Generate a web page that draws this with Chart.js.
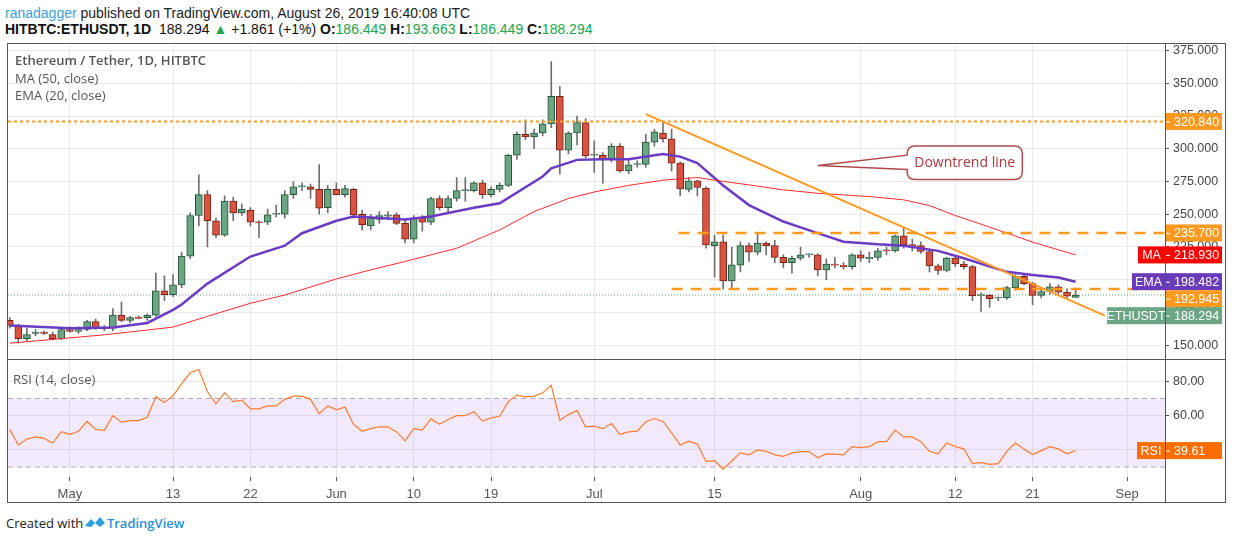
<!DOCTYPE html>
<html>
<head>
<meta charset="utf-8">
<script src="https://cdn.jsdelivr.net/npm/chart.js@4.4.0/dist/chart.umd.min.js"></script>
<style>
  body { margin: 0; background: #fff; width: 1234px; height: 540px; overflow: hidden; position: relative;
         font-family: "Liberation Sans Narrow", "Liberation Sans", Arial, sans-serif; }
  .abs { position: absolute; }
  #hdr1 { left: 5px; top: 5px; font-size: 14px; color: #222; }
  #hdr2 { left: 5px; top: 21px; font-size: 14px; color: #111; }
  #hdr2 b { font-weight: bold; }
  .g { color: #22a34a; }
  .leg { left: 15px; font-size: 13px; color: #555; font-family: "Open Sans", "Noto Sans", sans-serif; }
  #frame { left: 7px; top: 43px; width: 1219px; height: 460px; border: 1px solid #555; box-sizing: border-box; }
  #footer { left: 6px; top: 514px; font-size: 13px; color: #222; font-family: "Open Sans", "Noto Sans", sans-serif; }
  #footer span { color: #2a8fd8; font-weight: 600; }
</style>
</head>
<body>
<div id="hdr1" class="abs"><span style="color:#3aa0de">ranadagger</span> published on TradingView.com, August 26, 2019 16:40:08 UTC</div>
<div id="hdr2" class="abs"><b>HITBTC:ETHUSDT, 1D</b>&nbsp; 188.294 <span class="g">&#9650;</span> +1.861 (+1%) <b>O:</b><span class="g">186.449</span> <b>H:</b><span class="g">193.663</span> <b>L:</b><span class="g">186.449</span> <b>C:</b><span class="g">188.294</span></div>
<div id="frame" class="abs"></div>
<div class="abs" style="left:0;top:33px;width:1226px;height:339px"><canvas id="main" width="1226" height="339"></canvas></div>
<div class="abs" style="left:7px;top:359px;width:1219px;height:1px;background:#555"></div>
<div class="abs" style="left:0;top:351px;width:1226px;height:152px"><canvas id="rsi" width="1226" height="152"></canvas></div>
<div class="abs" style="left:1165px;top:43px;width:1px;height:460px;background:#555"></div>
<div class="abs leg" style="top:51px;font-weight:600;color:#555">Ethereum / Tether, 1D, HITBTC</div>
<div class="abs leg" style="top:69px">MA (50, close)</div>
<div class="abs leg" style="top:86px">EMA (20, close)</div>
<div class="abs leg" style="top:370px;left:13px">RSI (14, close)</div>
<div id="footer" class="abs">Created with &nbsp;&nbsp;&nbsp;&nbsp;&nbsp;&nbsp;<span>TradingView</span></div>
<svg class="abs" style="left:84px;top:515px" width="22" height="14"><path d="M1 11 L7 4 L11 8 L16 2 L21 8 L16 12 L11 8 L7 12 Z" fill="#2a9fd8"/></svg>
<script>
// --- data (day index 0 = Apr 24 2019) ---
const opens = [
  169,165,155,159,160,158,155,162,160.5,162,
  168,163,163,173,169,171,171,173,191.5,188.5,
  196,218,249,265,245,234,260,251,253,244,
  244,250,250,265,271,271,269,255,269,265,
  269,250,241,246,248.5,249.5,243,231,247,244,
  262,255,262,268,268,274,265,269,272,295,
  311,309,312,319,340,299,312,320,295,295,
  291.5,302,283,288,288,305,312,307.6,289,269,
  275.5,270,226,229,199,211,226,221,228,226,
  217,213,216.5,219,219,207.5,212,211,210,219,
  216,217,222.5,222,233.5,226.6,226,221.5,210.6,207,
  216.5,212,210,187.8,188,186,186,194,202.6,197,
  188,191,194.5,190.5,186.449
];
const highs = [
  171,166,163,162,161,160,163,164,164,169,
  170,165,178,183,172,172.5,174,205,203,204,
  221,251,280,268,247,264,263,258,255,245,
  254,257,268,275,274,273,288,272,274,272,
  270,253,250,252,252,251,246,249,249,263,
  264,264,278,278,275,276,271,274,296,313,
  322,315,322,366.6,347.5,313,325,323,306,297,
  304,304,291,291,311,315,320,315,290,278,
  276,271,234,234,225,229,228,235,229,230,
  219,218,225,220,220,216,217,213,220,222,
  221,224,225,234,240,231,229,223,212,217,
  218,214,211,190,189,187,195,204,204,198,
  194,197,196,193,193.663
];
const lows = [
  163,151.5,153,157,158,154,154,160,159,161,
  162,161,161,168,167,170,169,172,184,187,
  194,216,241,225,232,233,245,249,241,232,
  242,248,247,262,268,262,250,251,266,263,
  247,238,238,243,246,242,228,228,237,242,
  253,252,260,260,267,262,263,267,271,292,
  307,300,310,316,280.6,296,303,293,282,273.7,
  290,282,281,286,286,302,305,283,264,267,
  264,224,202,193,193,206,214,219,219,213,
  209,205,215,217,203,200,209,208,208,214,
  213,215,219,221,224,222,220,206,204,206,
  210,208,184,175.8,179,184,185,192,196,181,
  186,189,188,186,186.449
];
const closes = [
  165,155,158,160,159,155,162,160.5,162,168,
  163,162.5,173,169,171,170.5,173,191.5,188.5,196,
  218,249,265,245,234,260,251,254,244,243.5,
  249.5,250.5,265,271,271.5,269,254.6,269,265,269.5,
  249.5,242,247,249,249.5,243,231,247,244,262,
  255,262,268,268.8,274,265,269,272,295,311,
  309,312,319,340,299,312,320,294.6,295.4,291.5,
  302,283,287.7,288.5,305,313,307.6,289,269.4,275.5,
  270.4,226.6,229,199,211.3,226,221,228,226,217,
  213,216.5,219,219.4,207.5,212,211,210,219,216.5,
  217,222,222,233.5,226.6,226,221.5,210.6,207,216.5,
  212,210,187.8,188.5,185.5,186.4,194,202.6,197,188,
  191,194.5,190.5,187.5,188.294
];
const maDays  = [0,11,19,23,28,32,38,42,46,49,52,57,61,65,68,72,76,80,82,86,90,94,100,104,107,110,113,116,119,124];
const maVals  = [151.5,157.9,163.8,172,182,188.3,200.6,207.5,213.9,219,224,238,252,262,267,272,276,278,276,272.4,268.6,266,263.5,261,256.6,249,242.4,235.6,228.7,218.93];
const emaDays = [0,7,12,16,19,20,23,28,32,34,38,40,46,49,54,57,62,63,66,69,72,76,78,80,83,86,90,92,94,97,101,104,108,111,116,119,122,124];
const emaVals = [165,163,163.5,167,177,181,197,217.7,226,235.5,245,248.3,246,248.3,255,258.4,278.8,285,291.5,292,292,296,294,289,272,257,244.4,240,235.6,229,227,226,222,216.4,206,203.6,201.6,198.482];
const rsiVals = [
  52,42.9,46.3,47.6,46.7,44,50.7,49.1,50.9,56.6,
  52,51.4,60,56.2,57.1,57.1,59,71,67.6,71.6,
  78.7,85,86.9,73.9,66.9,73.3,68.2,69.1,64,64,
  65.7,65.7,69.5,71.4,71.4,69.5,61.1,65.7,63.4,65,
  54.9,50.9,52.4,53.5,53.5,50.5,45.3,52.6,51.6,58.1,
  54.9,57.7,60,60,62.3,56.8,58.7,59.6,68.2,72,
  71,71.4,73.3,77.7,57.3,60.6,63,53.5,53.9,52.4,
  55.4,49.1,50.5,51,56.4,58.3,56.6,50,42.9,45.1,
  43.4,33.3,33.7,28.8,33.5,38.3,37.1,40,39.2,37.1,
  36.2,38.3,39,39,35.4,37.7,37.5,37.1,41.9,41.3,
  41.9,44.8,44.8,51.6,47.6,47.6,44.8,39.2,37.7,44,
  41.9,40.6,32,32.6,31.6,32,39.2,44,40.6,37.3,
  39.6,41.9,40.6,37.7,39.61
];
const dateTicks  = [7,19,28,38,47,56,68,82,99,110,119,130];
const dateLabels = ["May","13","22","Jun","10","19","Jul","15","Aug","12","21","Sep"];
const priceTicks = [150,175,200,225,250,275,300,325,350,375];
const rsiTicks = [40,60,80];
const resistance = 320.84, rangeTop = 235.7, rangeBottom = 192.945, lastPrice = 188.294;
const trendStart = [74, 326.4], trendEnd = [127.4, 172.6];

const UP = "#6ba583", UPB = "#225437", DN = "#d75442", DNB = "#7a1f14";
const ORANGE = "#ff9a1f", GRID = "#e9e9ea";
const FONT = "'Liberation Sans Narrow', 'Liberation Sans', Arial";
const X_MIN = -0.2, X_MAX = 134.4;
const days = closes.map((c, i) => i);
const isUp = (i) => closes[i] >= opens[i];

function xAxis(showLabels) {
  return {
    type: "linear", min: X_MIN, max: X_MAX, offset: false,
    afterBuildTicks: (ax) => { ax.ticks = dateTicks.map((v) => ({ value: v })); },
    grid: { color: GRID, drawTicks: showLabels, tickLength: 4, tickColor: "#555", offset: false },
    border: { display: false },
    ticks: {
      display: showLabels, color: "#555", font: { family: FONT, size: 13 }, padding: 6,
      autoSkip: false, maxRotation: 0,
      callback: (v) => dateLabels[dateTicks.indexOf(v)],
    },
    afterFit: (ax) => { ax.height = showLabels ? 26 : 0; },
  };
}

// right-hand price tags, pushed apart so they don't overlap
function drawTags(chart, tags) {
  const { ctx, chartArea, scales } = chart;
  const y = scales.y;
  const h = 17;
  const placed = tags.map((t) => ({ ...t, py: y.getPixelForValue(t.v) })).sort((a, b) => a.py - b.py);
  for (let i = 1; i < placed.length; i++) {
    if (placed[i].py - placed[i - 1].py < h) placed[i].py = placed[i - 1].py + h;
  }
  ctx.save();
  ctx.font = "12.5px " + FONT;
  ctx.textBaseline = "middle";
  placed.forEach((t) => {
    const x0 = chartArea.right + 1;
    ctx.fillStyle = t.color;
    ctx.fillRect(x0, t.py - h / 2, 56, h);
    ctx.fillStyle = "#fff";
    ctx.textAlign = "left";
    ctx.fillText(t.text, x0 + 8, t.py + 1);
    ctx.fillRect(x0, t.py, 4, 1);
    if (t.name) {
      const w = t.nameW;
      ctx.fillStyle = t.color;
      ctx.fillRect(chartArea.right - w, t.py - h / 2, w, h);
      ctx.fillStyle = "#fff";
      ctx.textAlign = "center";
      ctx.fillText(t.name, chartArea.right - w / 2, t.py + 1);
    }
  });
  ctx.restore();
}

const mainPlugin = {
  id: "mainExtras",
  afterDraw(chart) {
    const { ctx, scales } = chart;
    // callout for the trend line
    const tip = [scales.x.getPixelForValue(94), scales.y.getPixelForValue(287.2)];
    const bx0 = scales.x.getPixelForValue(104.4), bx1 = scales.x.getPixelForValue(117.8);
    const by0 = scales.y.getPixelForValue(302), by1 = scales.y.getPixelForValue(276.5);
    ctx.save();
    ctx.strokeStyle = "#b04a4a"; ctx.lineWidth = 1.5; ctx.fillStyle = "#fff";
    ctx.beginPath();
    ctx.moveTo(bx0 + 8, by0);
    ctx.lineTo(bx1 - 8, by0); ctx.quadraticCurveTo(bx1, by0, bx1, by0 + 8);
    ctx.lineTo(bx1, by1 - 8); ctx.quadraticCurveTo(bx1, by1, bx1 - 8, by1);
    ctx.lineTo(bx0 + 8, by1); ctx.quadraticCurveTo(bx0, by1, bx0, by1 - 8);
    ctx.lineTo(bx0, by1 - 10); ctx.lineTo(tip[0], tip[1]); ctx.lineTo(bx0, by0 + 9);
    ctx.lineTo(bx0, by0 + 8); ctx.quadraticCurveTo(bx0, by0, bx0 + 8, by0);
    ctx.closePath(); ctx.fill(); ctx.stroke();
    ctx.fillStyle = "#b0353a"; ctx.font = "14px 'Open Sans', sans-serif";
    ctx.textAlign = "center"; ctx.textBaseline = "middle";
    ctx.fillText("Downtrend line", (bx0 + bx1) / 2, (by0 + by1) / 2);
    ctx.restore();
    drawTags(chart, [
      { v: resistance, text: "320.840", color: ORANGE },
      { v: rangeTop, text: "235.700", color: ORANGE },
      { v: maVals[maVals.length - 1], text: "218.930", color: "#ff0000", name: "MA", nameW: 27 },
      { v: emaVals[emaVals.length - 1], text: "198.482", color: "#6a3bb8", name: "EMA", nameW: 33 },
      { v: rangeBottom, text: "192.945", color: ORANGE },
      { v: lastPrice, text: "188.294", color: "#6ba583", name: "ETHUSDT", nameW: 58 },
    ]);
  },
};

const seg = (x0, x1, v) => [{ x: x0, y: v }, { x: x1, y: v }];
const lineDs = (data, color, width, dash, order) => ({
  type: "line", data, borderColor: color, borderWidth: width, borderDash: dash || [],
  pointRadius: 0, tension: 0, order: order,
});

new Chart(document.getElementById("main"), {
  data: {
    datasets: [
      lineDs(seg(X_MIN, X_MAX, lastPrice), "#5b9a7d", 1, [1, 2], 5),
      { type: "bar", data: days.map((i) => ({ x: i, y: [lows[i], highs[i]] })),
        backgroundColor: "#707070", barThickness: 1, order: 4 },
      { type: "bar", data: days.map((i) => ({ x: i, y: [opens[i], closes[i]] })),
        backgroundColor: (c) => (isUp(c.dataIndex) ? UP : DN),
        borderColor: (c) => (isUp(c.dataIndex) ? UPB : DNB),
        borderWidth: 1, borderSkipped: false, barThickness: 7, minBarLength: 1, order: 3 },
      lineDs(maDays.map((d, i) => ({ x: d, y: maVals[i] })), "#ff2a2a", 1, null, 2),
      lineDs(emaDays.map((d, i) => ({ x: d, y: emaVals[i] })), "#6a3bc4", 2.5, null, 2),
      lineDs(seg(X_MIN, X_MAX, resistance), ORANGE, 2, [3, 3], 1),
      lineDs(seg(77.8, X_MAX, rangeTop), ORANGE, 2.5, [11, 8], 1),
      lineDs(seg(77, X_MAX, rangeBottom), ORANGE, 2.5, [11, 8], 1),
      lineDs([{ x: trendStart[0], y: trendStart[1] }, { x: trendEnd[0], y: trendEnd[1] }], ORANGE, 2, null, 1),
    ],
  },
  options: {
    responsive: false, animation: false,
    layout: { padding: { left: 8, top: 0, bottom: 0, right: 0 } },
    datasets: { bar: { grouped: false } },
    plugins: { legend: { display: false }, tooltip: { enabled: false } },
    scales: {
      x: xAxis(false),
      y: {
        position: "right", min: 138.3, max: 379.6,
        afterBuildTicks: (ax) => { ax.ticks = priceTicks.map((v) => ({ value: v })); },
        afterFit: (ax) => { ax.width = 61; },
        grid: { color: GRID, tickLength: 4, tickColor: "#555" },
        border: { display: false },
        ticks: { color: "#444", font: { family: FONT, size: 12.5 }, padding: 4,
                 callback: (v) => v.toFixed(3) },
      },
    },
  },
  plugins: [mainPlugin],
});

const rsiPlugin = {
  id: "rsiBand",
  beforeDatasetsDraw(chart) {
    const { ctx, chartArea, scales } = chart;
    const y70 = scales.y.getPixelForValue(70), y30 = scales.y.getPixelForValue(30);
    ctx.save();
    ctx.fillStyle = "rgba(170, 100, 240, 0.14)";
    ctx.fillRect(chartArea.left, y70, chartArea.right - chartArea.left, y30 - y70);
    ctx.strokeStyle = "#b0aab8"; ctx.setLineDash([5, 4]); ctx.lineWidth = 1;
    [y70, y30].forEach((yy) => {
      ctx.beginPath(); ctx.moveTo(chartArea.left, yy); ctx.lineTo(chartArea.right, yy); ctx.stroke();
    });
    ctx.restore();
  },
  afterDraw(chart) {
    drawTags(chart, [{ v: 39.61, text: "39.61", color: "#ff6d00", name: "RSI", nameW: 28 }]);
  },
};

new Chart(document.getElementById("rsi"), {
  type: "line",
  data: {
    datasets: [lineDs(days.map((i) => ({ x: i, y: rsiVals[i] })), "#ff7b2e", 1.2, null, 1)],
  },
  options: {
    responsive: false, animation: false,
    layout: { padding: { left: 8, top: 0, bottom: 0, right: 0 } },
    plugins: { legend: { display: false }, tooltip: { enabled: false } },
    scales: {
      x: xAxis(true),
      y: {
        position: "right", min: 24.2, max: 91,
        afterBuildTicks: (ax) => { ax.ticks = rsiTicks.map((v) => ({ value: v })); },
        afterFit: (ax) => { ax.width = 61; },
        grid: { color: GRID, tickLength: 4, tickColor: "#555" },
        border: { display: false },
        ticks: { color: "#444", font: { family: FONT, size: 12.5 }, padding: 4,
                 callback: (v) => v.toFixed(2) },
      },
    },
  },
  plugins: [rsiPlugin],
});
</script>
</body>
</html>
